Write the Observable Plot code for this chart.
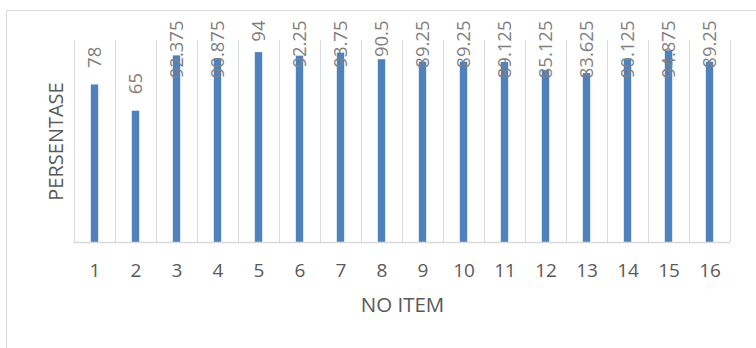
<!DOCTYPE html>
<html>
<head>
<meta charset="utf-8">
<script src="https://cdn.jsdelivr.net/npm/d3@7"></script>
<script src="https://cdn.jsdelivr.net/npm/@observablehq/plot@0.6"></script>
<style>
  html, body { margin: 0; padding: 0; background: #fff; width: 756px; height: 348px; overflow: hidden; }
  #wrap { position: relative; width: 756px; height: 348px; overflow: hidden; }
  #border { position: absolute; left: 6px; top: 10px; width: 800px; height: 400px; border: 1px solid #d9d9d9; box-sizing: border-box; }
  #chart { position: absolute; left: 0; top: 0; }
</style>
</head>
<body>
<div id="wrap"><div id="border"></div><div id="chart"></div></div>
<script>
const items = ["1","2","3","4","5","6","7","8","9","10","11","12","13","14","15","16"];
const values = [78, 65, 92.375, 90.875, 94, 92.25, 93.75, 90.5, 89.25, 89.25, 89.125, 85.125, 83.625, 90.125, 94.875, 89.25];
const labels = ["78","65","92.375","90.875","94","92.25","93.75","90.5","89.25","89.25","89.125","85.125","83.625","90.125","94.875","89.25"];
const xTitle = "NO ITEM";
const yTitle = "PERSENTASE";

const W = 756, H = 348;
const mTop = 40, mBottom = 106, mLeft = 74, mRight = 26;
const font = "Open Sans";
const labelSize = 18.5;

const yScale = Plot.scale({y: {domain: [0, 100], range: [H - mBottom, mTop]}});
const ctx = document.createElement("canvas").getContext("2d");
ctx.font = `${labelSize}px "${font}"`;
const data = items.map((k, i) => {
  const len = ctx.measureText(labels[i]).width;
  const px = Math.max(yScale.apply(values[i]) - 17, 20 + len);
  return {item: k, value: values[i], label: labels[i], ly: yScale.invert(px)};
});
const step = (W - mLeft - mRight) / items.length;

const chart = Plot.plot({
  width: W, height: H,
  marginTop: mTop, marginBottom: mBottom, marginLeft: mLeft, marginRight: mRight,
  style: {fontFamily: font, fontSize: "19px", color: "#595959", background: "transparent", overflow: "visible"},
  x: {domain: items, padding: 0, label: null},
  y: {domain: [0, 100], axis: null},
  marks: [
    Plot.ruleX(data, {x: "item", dx: -step / 2, y1: 0, y2: 100, stroke: "#d9d9d9", strokeWidth: 1}),
    Plot.ruleX(data.slice(-1), {x: "item", dx: step / 2, y1: 0, y2: 100, stroke: "#d9d9d9", strokeWidth: 1}),
    Plot.barY(data, {x: "item", y: "value", fill: "#4f81bd", insetLeft: 16.8, insetRight: 16.8}),
    Plot.ruleY([0], {stroke: "#d9d9d9", strokeWidth: 1.5}),
    Plot.axisX({tickSize: 0, tickPadding: 21, fontSize: 19, label: null}),
    Plot.text(data, {x: "item", y: "ly", text: "label", rotate: -90, textAnchor: "start", fill: "#7f7f7f", fontSize: labelSize}),
    Plot.text([xTitle], {frameAnchor: "bottom", dy: 63, textAnchor: "middle", lineAnchor: "middle", fill: "#595959", fontSize: 20.5}),
    Plot.text([yTitle], {frameAnchor: "left", dx: -18, rotate: -90, textAnchor: "middle", lineAnchor: "middle", fill: "#595959", fontSize: 20})
  ]
});
document.getElementById("chart").appendChild(chart);
</script>
</body>
</html>
